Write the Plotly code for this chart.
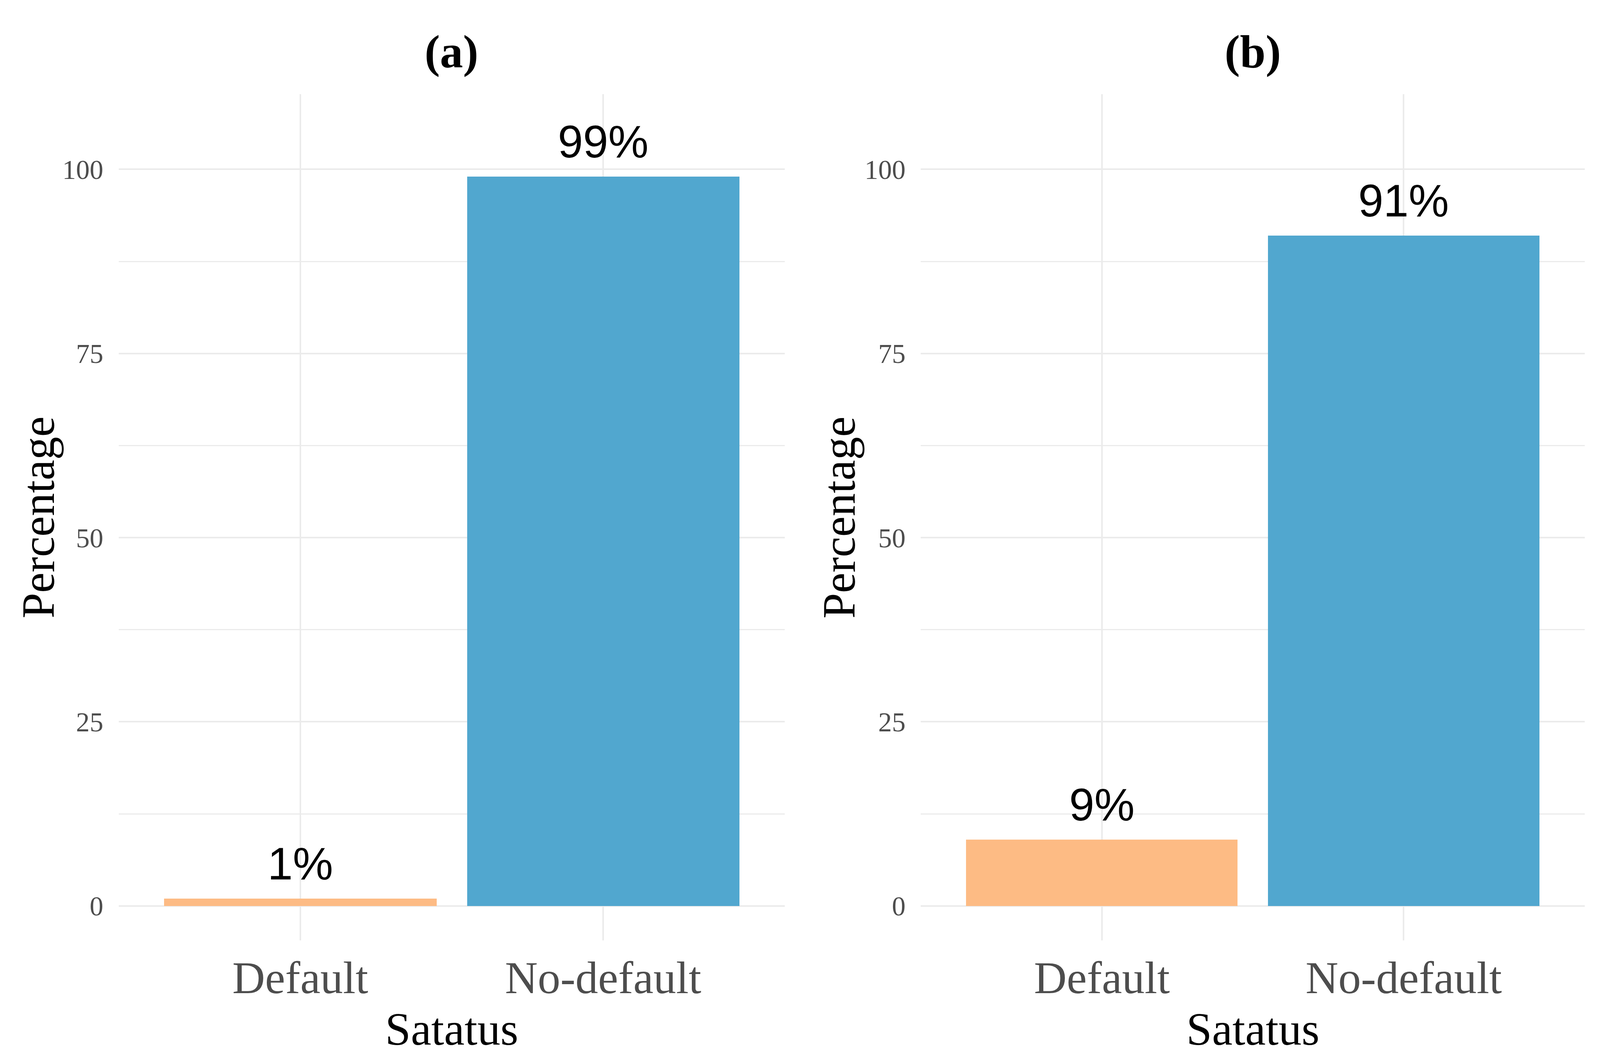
import plotly.graph_objects as go

categories = ["Default", "No-default"]
values_a = [1, 99]
values_b = [9, 91]
labels_a = ["1%", "99%"]
labels_b = ["9%", "91%"]
panel_titles = ["(a)", "(b)"]
x_title = "Satatus"
y_title = "Percentage"
y_ticks = [0, 25, 50, 75, 100]

bar_colors = ["#FDBB84", "#51A7CF"]
serif = "Liberation Serif"
sans = "Liberation Sans"

# the browser viewport is 4096 x 2708
W, H = 4096, 2708
fig = go.Figure()

domains = [[0.0741, 0.4905], [0.5755, 0.9905]]
ydom = [0.111, 0.911]
yrange = [-4.7, 110.2]

panels = [(values_a, labels_a), (values_b, labels_b)]
for i, (vals, labs) in enumerate(panels):
    xa = "x" if i == 0 else "x2"
    ya = "y" if i == 0 else "y2"
    fig.add_trace(go.Bar(
        x=categories, y=vals, width=0.9,
        marker=dict(color=bar_colors, line=dict(width=0)),
        xaxis=xa, yaxis=ya, showlegend=False, hoverinfo="skip",
    ))
    for c, v, t in zip(categories, vals, labs):
        fig.add_annotation(
            x=c, y=v, xref=xa, yref=ya, text=t, showarrow=False,
            yanchor="bottom", yshift=22,
            font=dict(family=sans, size=116, color="#000000"),
        )
    xc = (domains[i][0] + domains[i][1]) / 2
    fig.add_annotation(
        x=xc, y=0.951, xref="paper", yref="paper", text="<b>%s</b>" % panel_titles[i],
        showarrow=False, xanchor="center", yanchor="middle",
        font=dict(family=serif, size=118, color="#000000"),
    )
    fig.add_annotation(
        x=xc, y=0.027, xref="paper", yref="paper", text=x_title,
        showarrow=False, xanchor="center", yanchor="middle",
        font=dict(family=serif, size=118, color="#000000"),
    )
    fig.add_annotation(
        x=[0.0239, 0.5245][i], y=(ydom[0] + ydom[1]) / 2, xref="paper", yref="paper",
        text=y_title, textangle=-90, showarrow=False,
        xanchor="center", yanchor="middle",
        font=dict(family=serif, size=118, color="#000000"),
    )

grid_col = "#EBEBEB"
xaxis_common = dict(
    type="category", range=[-0.6, 1.6], showgrid=True, gridcolor=grid_col, gridwidth=4,
    zeroline=False, showline=False, ticks="", ticklabelstandoff=18,
    tickfont=dict(family=serif, size=116, color="#4D4D4D"),
    automargin=False,
)
yaxis_common = dict(
    range=yrange, tickvals=y_ticks, showgrid=True, gridcolor=grid_col, gridwidth=4,
    minor=dict(dtick=12.5, tick0=0, showgrid=True, gridcolor=grid_col, gridwidth=3),
    zeroline=False, showline=False, ticks="", ticklabelstandoff=38,
    tickfont=dict(family=serif, size=70, color="#4D4D4D"),
    automargin=False, domain=ydom,
)

fig.update_layout(
    width=W, height=H,
    margin=dict(l=0, r=0, t=0, b=0),
    paper_bgcolor="white", plot_bgcolor="white",
    bargap=0,
    xaxis=dict(domain=domains[0], anchor="y", **xaxis_common),
    yaxis=dict(anchor="x", **yaxis_common),
    xaxis2=dict(domain=domains[1], anchor="y2", **xaxis_common),
    yaxis2=dict(anchor="x2", **yaxis_common),
)

fig.write_html("out.html", config={"displayModeBar": False},
               post_script="document.body.style.margin='0';")
